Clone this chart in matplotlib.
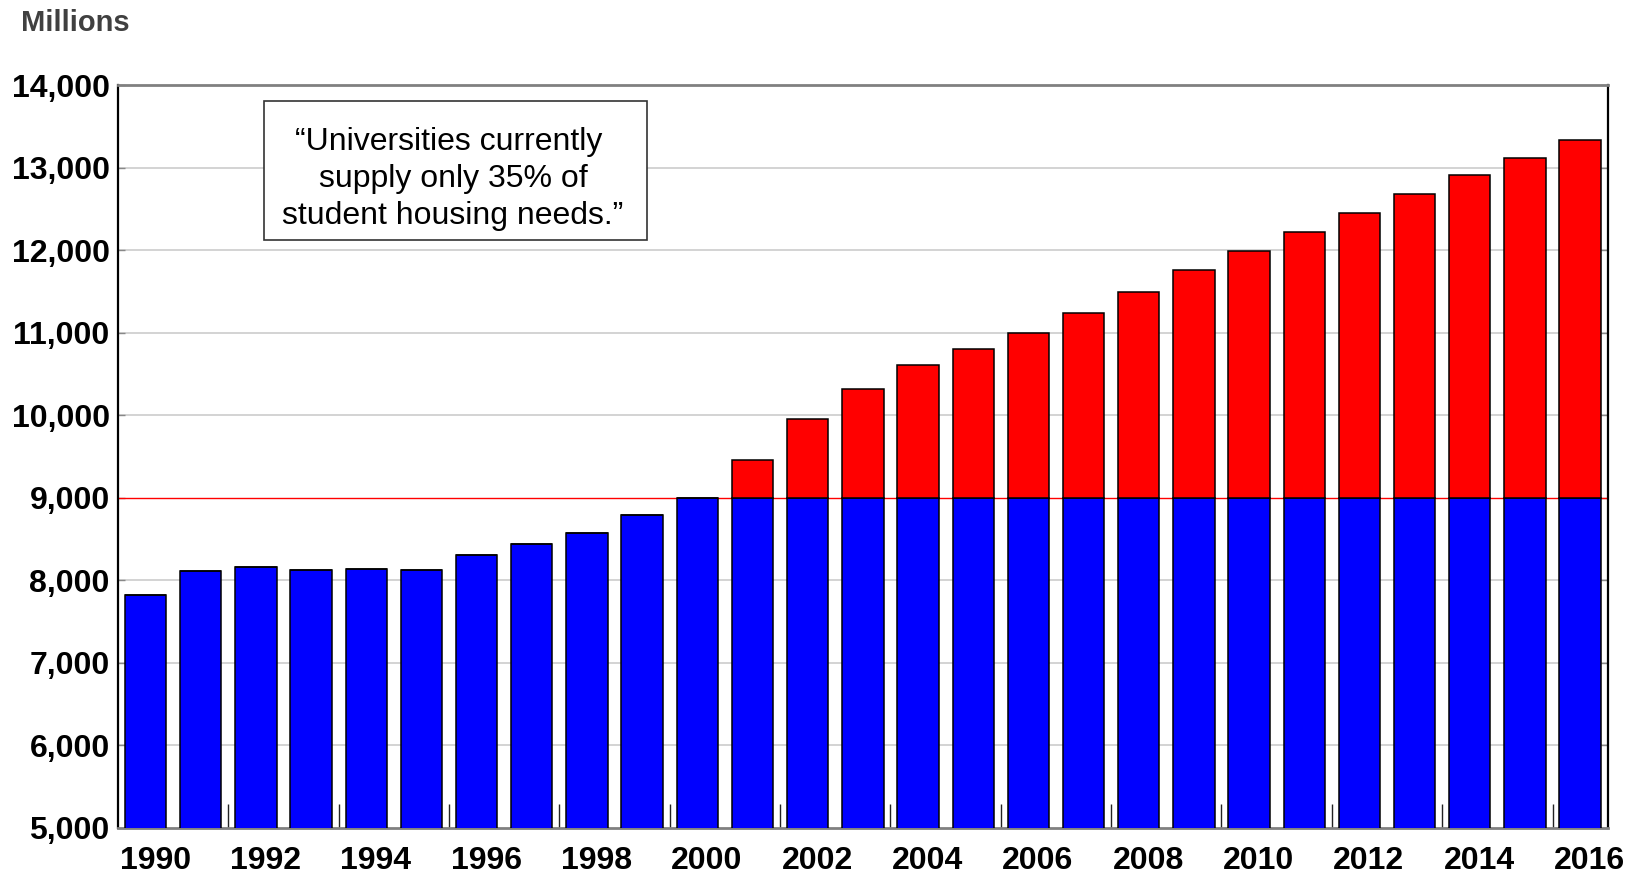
import matplotlib
matplotlib.use("Agg")
import matplotlib.pyplot as plt
import matplotlib.transforms as mtransforms
from matplotlib.patches import Rectangle
import numpy as np

plt.rcParams['font.family'] = ['Liberation Sans', 'DejaVu Sans']

# Student housing demand (millions), split at the 9,000 supply level
years = list(range(1990, 2017))
supplied = [7820, 8110, 8165, 8125, 8140, 8125, 8305, 8440, 8570, 8790, 9000,
            9000, 9000, 9000, 9000, 9000, 9000, 9000, 9000, 9000, 9000,
            9000, 9000, 9000, 9000, 9000, 9000]
shortfall = [0, 0, 0, 0, 0, 0, 0, 0, 0, 0, 0,
             450, 950, 1315, 1610, 1800, 1990, 2240, 2495, 2760, 2990,
             3220, 3445, 3675, 3905, 4115, 4330]
supply_level = 9000
y_ticks = [5000, 6000, 7000, 8000, 9000, 10000, 11000, 12000, 13000, 14000]
quote = "\u201cUniversities currently \nsupply only 35% of\nstudent housing needs.\u201d"

fig = plt.figure(figsize=(16.39, 8.76), dpi=100)
ax = fig.add_axes([118 / 1639, 1 - 827.7 / 876, (1607.7 - 118) / 1639, (827.7 - 85) / 876])

x = np.arange(len(years))
ax.bar(x, supplied, width=0.75, color='#0000FF', edgecolor='black', linewidth=1.1, zorder=3)
ax.bar(x, shortfall, width=0.75, bottom=supplied, color='#FF0000', edgecolor='black',
       linewidth=1.1, zorder=3)

# gridlines, with the supply level drawn in red
for v in y_ticks[1:-1]:
    if v == supply_level:
        ax.axhline(v, color='#FF0000', linewidth=1.0, zorder=2)
    else:
        ax.axhline(v, color='#cccccc', linewidth=1.2, zorder=1)

ax.set_xlim(-0.5, len(years) - 0.5)
ax.set_ylim(y_ticks[0], y_ticks[-1])

ax.set_yticks(y_ticks)
ax.set_yticklabels([f"{v:,}" for v in y_ticks], fontsize=23, fontweight='bold')
ax.tick_params(axis='y', direction='in', length=5, width=1, color='#888888', pad=6,
               left=True, right=True)

label_pos = x[::2]
ax.set_xticks(label_pos)
ax.set_xticklabels([str(years[i]) for i in label_pos], fontsize=23, fontweight='bold')
ax.set_xticks(np.arange(1.5, len(years) - 1, 2), minor=True)
ax.tick_params(axis='x', which='major', length=0, pad=13.5)
ax.tick_params(axis='x', which='minor', direction='in', length=17, width=1, color='#222222')

shift = mtransforms.ScaledTranslation(9.5 / 100, 0, fig.dpi_scale_trans)
for lbl in ax.get_xticklabels():
    lbl.set_transform(lbl.get_transform() + shift)

for side in ('top', 'bottom'):
    ax.spines[side].set_color('#808080')
    ax.spines[side].set_linewidth(2)
for side in ('left', 'right'):
    ax.spines[side].set_color('black')
    ax.spines[side].set_linewidth(1.6)

# quote box
bx0, bx1, by0, by1 = 264 / 1639, 646.7 / 1639, 1 - 240 / 876, 1 - 100.7 / 876
fig.patches.append(Rectangle((bx0, by0), bx1 - bx0, by1 - by0, transform=fig.transFigure,
                             facecolor='white', edgecolor='#333333', linewidth=1.2, zorder=5))
fig.text(453 / 1639, 1 - 179 / 876, quote, ha='center', va='center', multialignment='center',
         fontsize=23, linespacing=1.3, color='black', zorder=6)

fig.text(20.7 / 1639, 1 - 9 / 876, "Millions", ha='left', va='top', fontsize=21,
         fontweight='bold', color='#404040')

fig.savefig("out.png", dpi=100)
